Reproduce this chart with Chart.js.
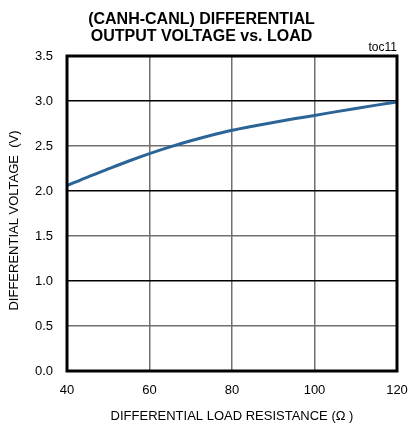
<!DOCTYPE html>
<html>
<head>
<meta charset="utf-8">
<script src="https://cdn.jsdelivr.net/npm/chart.js@4"></script>
<style>
html,body{margin:0;padding:0;background:#fff;}
#wrap{width:408px;height:425px;}
</style>
</head>
<body>
<div id="wrap"><canvas id="c" width="408" height="425"></canvas></div>
<script>
const loadResistance = [40, 45, 50, 55, 60, 65, 70, 75, 80, 85, 90, 95, 100, 105, 110, 115, 120];
const diffVoltage = [2.06, 2.155, 2.245, 2.333, 2.415, 2.49, 2.558, 2.62, 2.675, 2.72, 2.762, 2.802, 2.84, 2.879, 2.917, 2.954, 2.99];
const xTicks = [40, 60, 80, 100, 120];
const yTicks = [0.0, 0.5, 1.0, 1.5, 2.0, 2.5, 3.0, 3.5];
const titleLines = ['(CANH-CANL) DIFFERENTIAL', 'OUTPUT VOLTAGE vs. LOAD'];
const xTitle = 'DIFFERENTIAL LOAD RESISTANCE (Ω )';
const yTitle = 'DIFFERENTIAL VOLTAGE  (V)';
const tocLabel = 'toc11';

const FONT = "'Liberation Sans', Arial, sans-serif";

const framePlugin = {
  id: 'frame',
  beforeDraw(chart) {
    const ys = chart.scales.y;
    if (ys && !ys._shiftedTitle) {
      const orig = ys.drawTitle;
      ys.drawTitle = function () {
        this.ctx.save();
        this.ctx.translate(0, 7);
        orig.call(this);
        this.ctx.restore();
      };
      ys._shiftedTitle = true;
    }
  },
  afterDraw(chart) {
    const {ctx, chartArea: a} = chart;
    ctx.save();
    ctx.strokeStyle = '#000';
    ctx.lineWidth = 3;
    ctx.strokeRect(a.left, a.top, a.right - a.left, a.bottom - a.top);
    ctx.fillStyle = '#000';
    ctx.font = "12px " + FONT;
    ctx.textAlign = 'right';
    ctx.textBaseline = 'alphabetic';
    ctx.fillText(tocLabel, a.right, a.top - 5);
    ctx.restore();
  }
};

new Chart(document.getElementById('c'), {
  type: 'line',
  data: {
    datasets: [{
      data: loadResistance.map((x, i) => ({x: x, y: diffVoltage[i]})),
      borderColor: '#2b6496',
      borderWidth: 3,
      pointRadius: 0,
      cubicInterpolationMode: 'monotone',
      fill: false
    }]
  },
  options: {
    responsive: false,
    animation: false,
    devicePixelRatio: 1,
    layout: {padding: {left: 6, right: 11, top: 0, bottom: 1}},
    plugins: {
      legend: {display: false},
      tooltip: {enabled: false},
      title: {
        display: true,
        text: titleLines,
        color: '#000',
        font: {family: FONT, size: 16, weight: 'bold', lineHeight: 1.05},
        padding: {top: 11.6, bottom: 10.8}
      }
    },
    scales: {
      x: {
        type: 'linear',
        min: 40, max: 120,
        afterBuildTicks(scale) { scale.ticks = xTicks.map(v => ({value: v})); },
        afterFit(scale) { scale.height = 53; scale.paddingLeft = 0; scale.paddingRight = 0; },
        ticks: {color: '#000', font: {family: FONT, size: 13}, padding: 12, maxRotation: 0,
          callback: v => String(v)},
        grid: {color: '#707070', lineWidth: 1.5, drawTicks: false},
        border: {display: false},
        title: {display: true, text: xTitle, color: '#000', font: {family: FONT, size: 13}, padding: {top: 4, bottom: 0}}
      },
      y: {
        type: 'linear',
        min: 0, max: 3.5,
        afterBuildTicks(scale) { scale.ticks = yTicks.map(v => ({value: v})); },
        afterFit(scale) { scale.width = 61; },
        ticks: {color: '#000', font: {family: FONT, size: 13}, padding: 14,
          callback: v => Number(v).toFixed(1)},
        grid: {
          color: ctx => (ctx.tick && Math.abs(ctx.tick.value % 1) < 1e-6) ? '#000' : '#707070',
          lineWidth: 1.5, drawTicks: false
        },
        border: {display: false},
        title: {display: true, text: yTitle, color: '#000', font: {family: FONT, size: 13}, padding: {top: 1, bottom: 0}}
      }
    }
  },
  plugins: [framePlugin]
});
</script>
</body>
</html>
